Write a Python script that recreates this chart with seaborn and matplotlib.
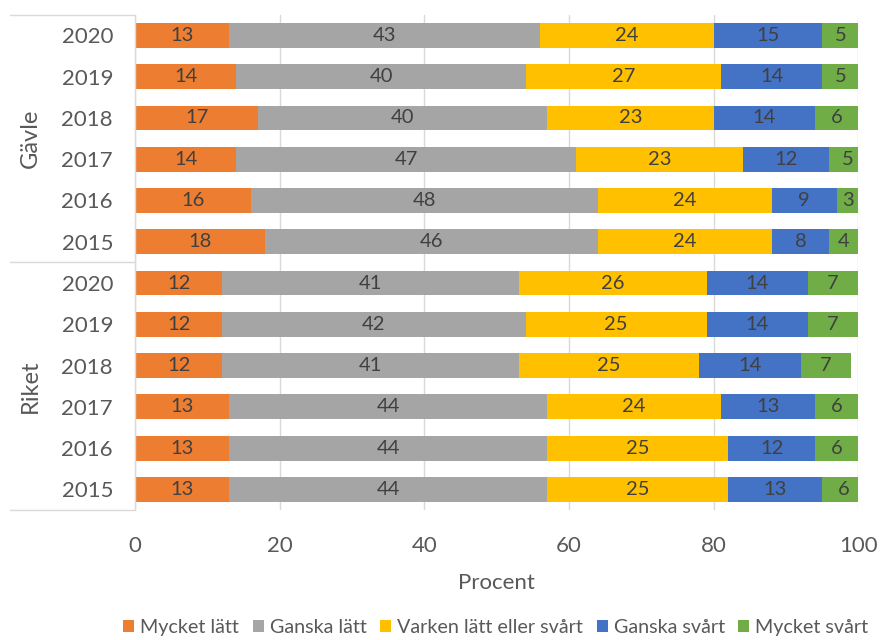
import matplotlib
matplotlib.use('Agg')

import matplotlib.pyplot as plt
import numpy as np
import pandas as pd
import seaborn as sns

# === Data ===
groups = ["Gävle"] * 6 + ["Riket"] * 6
years = ["2020", "2019", "2018", "2017", "2016", "2015"] * 2
categories = ["Mycket lätt", "Ganska lätt", "Varken lätt eller svårt",
              "Ganska svårt", "Mycket svårt"]
mycket_latt = [13, 14, 17, 14, 16, 18, 12, 12, 12, 13, 13, 13]
ganska_latt = [43, 40, 40, 47, 48, 46, 41, 42, 41, 44, 44, 44]
varken = [24, 27, 23, 23, 24, 24, 26, 25, 25, 24, 25, 25]
ganska_svart = [15, 14, 14, 12, 9, 8, 14, 14, 14, 13, 12, 13]
mycket_svart = [5, 5, 6, 5, 3, 4, 7, 7, 7, 6, 6, 6]

colors = ["#ED7D31", "#A5A5A5", "#FFC000", "#4472C4", "#70AD47"]

# === Build table ===
rows = [f"{g} {y}" for g, y in zip(groups, years)]
values = np.array([mycket_latt, ganska_latt, varken, ganska_svart, mycket_svart])
cum = values.cumsum(axis=0)

sns.set_style("white")
plt.rcParams['font.family'] = ['Lato', 'DejaVu Sans']
text_col = "#595959"

fig = plt.figure(figsize=(8.84, 6.4), dpi=100)
ax = fig.add_axes([0.153, 0.203, 0.818, 0.774])

# stacked bars: draw cumulative totals from the last segment to the first
for i in range(len(categories) - 1, -1, -1):
    df = pd.DataFrame({"rad": rows, "värde": cum[i]})
    sns.barplot(data=df, x="värde", y="rad", order=rows, color=colors[i],
                width=0.6, saturation=1, label=categories[i], ax=ax,
                edgecolor="none")

# segment labels
for i in range(len(categories)):
    for r in range(len(rows)):
        v = values[i, r]
        center = cum[i, r] - v / 2
        ax.text(center, r, str(v), ha="center", va="center",
                fontsize=14.5, color="#404040")

ax.set_xlim(0, 100)
ax.set_ylim(11.5, -0.5)
ax.set_xticks([0, 20, 40, 60, 80, 100])
ax.xaxis.grid(True, color="#D9D9D9", linewidth=1)
ax.set_axisbelow(True)
ax.set_yticks(range(len(rows)))
ax.set_yticklabels(years)
ax.tick_params(axis="both", labelsize=16, colors=text_col, length=0)
ax.tick_params(axis="x", pad=19)
ax.tick_params(axis="y", pad=16)
ax.set_xlabel("Procent", fontsize=16, color=text_col, labelpad=12)
ax.set_ylabel("")
for s in ax.spines.values():
    s.set_visible(False)

# group separators on the left
line_kw = dict(color="#D9D9D9", linewidth=1, clip_on=False,
               transform=ax.get_yaxis_transform())
ax.plot([0, 0], [-0.5, 11.5], **line_kw)
for yb in [-0.5, 5.5, 11.5]:
    ax.plot([-0.173, 0], [yb, yb], **line_kw)
for name, yc in [("Gävle", 2.5), ("Riket", 8.5)]:
    ax.text(-0.145, yc, name, rotation=90, ha="center", va="center",
            fontsize=17, color=text_col, transform=ax.get_yaxis_transform())

# legend
handles, labels = ax.get_legend_handles_labels()
order = [labels.index(c) for c in categories]
fig.legend([handles[k] for k in order], [labels[k] for k in order],
           loc="lower center", bbox_to_anchor=(0.561, -0.022), ncol=5,
           frameon=False, fontsize=14.2, handlelength=0.55, handleheight=0.55,
           handletextpad=0.3, columnspacing=0.7, labelcolor=text_col)
if ax.get_legend() is not None:
    ax.get_legend().remove()

plt.savefig("out.png", dpi=100)
